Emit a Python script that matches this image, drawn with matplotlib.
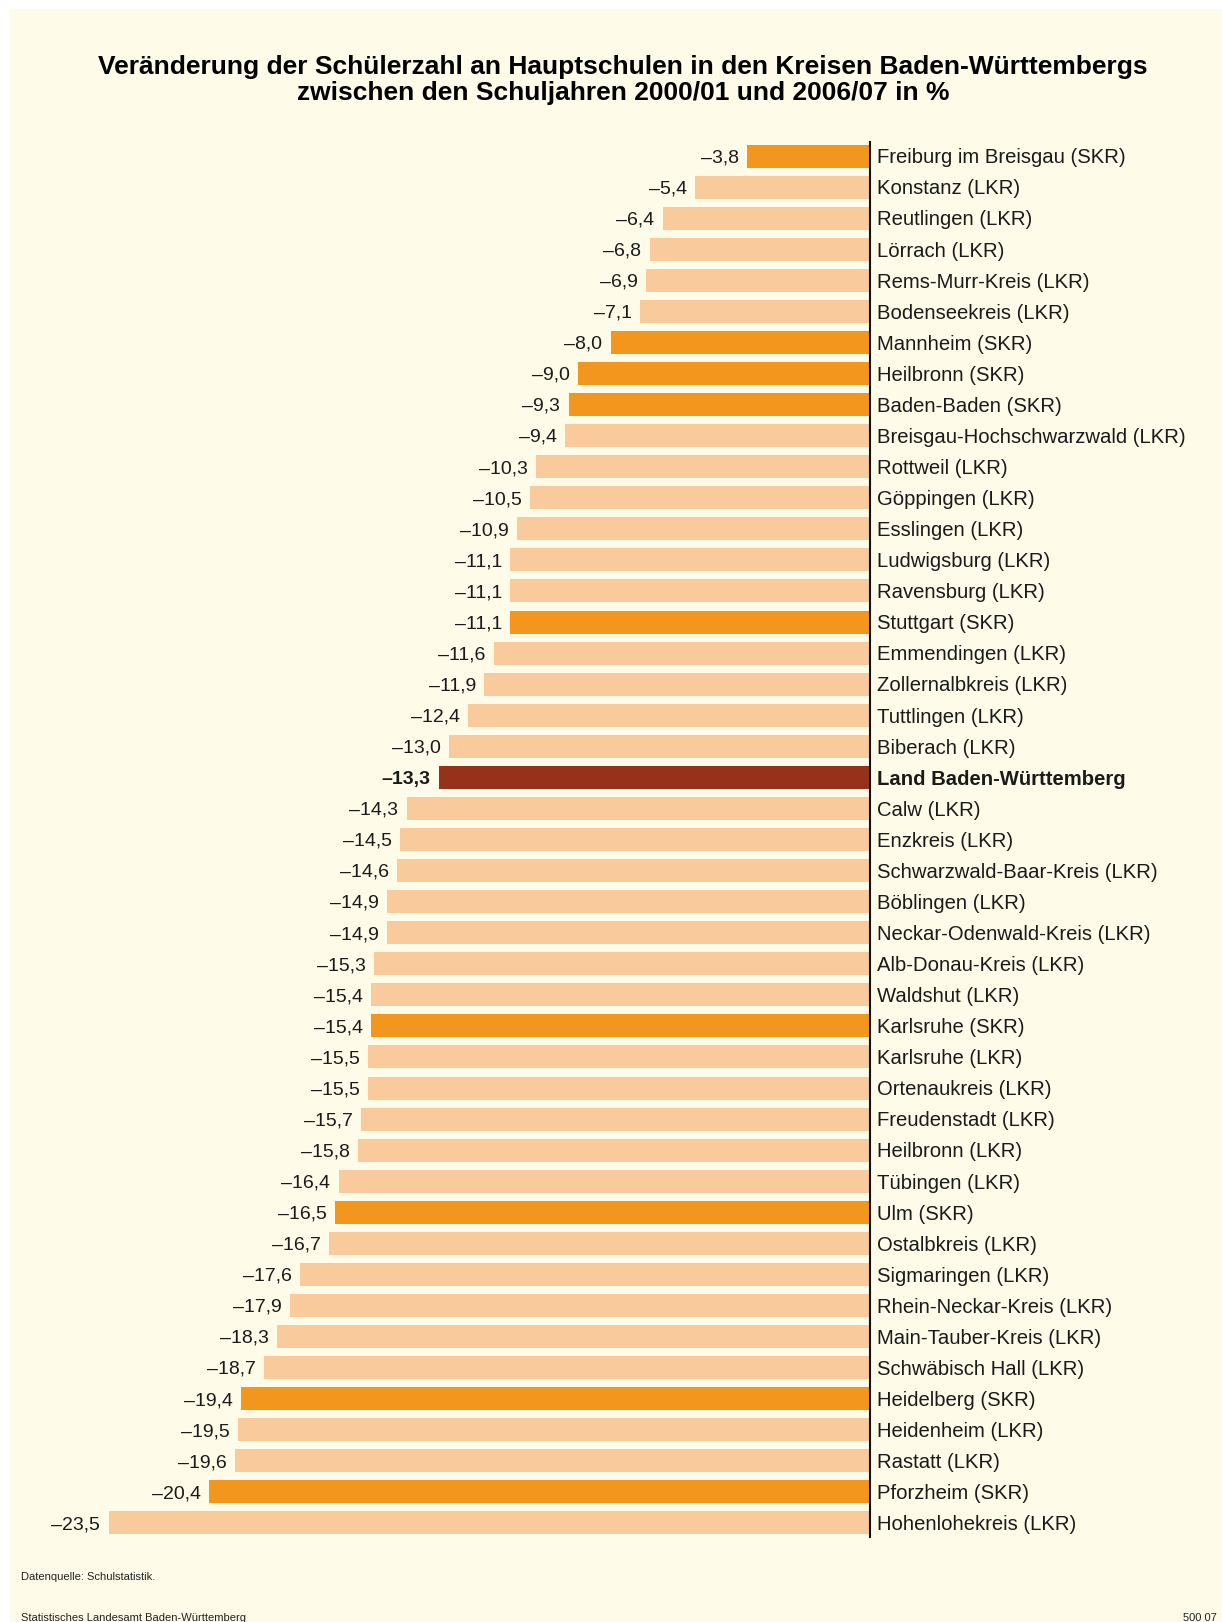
import matplotlib
matplotlib.use("Agg")
import matplotlib.pyplot as plt
from matplotlib.patches import Rectangle

plt.rcParams['font.family'] = ['Liberation Sans', 'DejaVu Sans']

names = ["Freiburg im Breisgau (SKR)", "Konstanz (LKR)", "Reutlingen (LKR)", "Lörrach (LKR)",
         "Rems-Murr-Kreis (LKR)", "Bodenseekreis (LKR)", "Mannheim (SKR)", "Heilbronn (SKR)",
         "Baden-Baden (SKR)", "Breisgau-Hochschwarzwald (LKR)", "Rottweil (LKR)", "Göppingen (LKR)",
         "Esslingen (LKR)", "Ludwigsburg (LKR)", "Ravensburg (LKR)", "Stuttgart (SKR)",
         "Emmendingen (LKR)", "Zollernalbkreis (LKR)", "Tuttlingen (LKR)", "Biberach (LKR)",
         "Land Baden-Württemberg", "Calw (LKR)", "Enzkreis (LKR)", "Schwarzwald-Baar-Kreis (LKR)",
         "Böblingen (LKR)", "Neckar-Odenwald-Kreis (LKR)", "Alb-Donau-Kreis (LKR)", "Waldshut (LKR)",
         "Karlsruhe (SKR)", "Karlsruhe (LKR)", "Ortenaukreis (LKR)", "Freudenstadt (LKR)",
         "Heilbronn (LKR)", "Tübingen (LKR)", "Ulm (SKR)", "Ostalbkreis (LKR)", "Sigmaringen (LKR)",
         "Rhein-Neckar-Kreis (LKR)", "Main-Tauber-Kreis (LKR)", "Schwäbisch Hall (LKR)",
         "Heidelberg (SKR)", "Heidenheim (LKR)", "Rastatt (LKR)", "Pforzheim (SKR)",
         "Hohenlohekreis (LKR)"]
values = [-3.8, -5.4, -6.4, -6.8, -6.9, -7.1, -8.0, -9.0, -9.3, -9.4, -10.3, -10.5, -10.9,
          -11.1, -11.1, -11.1, -11.6, -11.9, -12.4, -13.0, -13.3, -14.3, -14.5, -14.6, -14.9,
          -14.9, -15.3, -15.4, -15.4, -15.5, -15.5, -15.7, -15.8, -16.4, -16.5, -16.7, -17.6,
          -17.9, -18.3, -18.7, -19.4, -19.5, -19.6, -20.4, -23.5]

c_skr = "#f2961e"
c_lkr = "#f8ca9c"
c_land = "#96321a"
bg = "#fefbe9"

W, H = 1222, 1622
fig = plt.figure(figsize=(W / 100, H / 100), dpi=100, facecolor="white")
fig.patches.append(Rectangle((10 / W, 0), 1, 1 - 9 / H, transform=fig.transFigure,
                             facecolor=bg, edgecolor="none", zorder=-5))

ax = fig.add_axes([100 / W, 83.5 / H, 770 / W, 1398 / H])
ax.set_facecolor("none")

colors = []
for n in names:
    if n.startswith("Land"):
        colors.append(c_land)
    elif "(SKR)" in n:
        colors.append(c_skr)
    else:
        colors.append(c_lkr)

ypos = list(range(len(names)))
ax.barh(ypos, values, height=0.74, color=colors, zorder=2)
ax.set_xlim(-770 / 32.4, 0)
ax.set_ylim(len(names) - 0.5, -0.5)
ax.axis("off")
ax.plot([0, 0], [-0.45, len(names) - 0.55], color="#111111", lw=1.5, zorder=3, clip_on=False)

for y, v, n in zip(ypos, values, names):
    bold = n.startswith("Land")
    lab = ("%.1f" % abs(v)).replace(".", ",")
    ax.annotate("\u2013" + lab, (v, y), xytext=(-6, -1.3), textcoords="offset points",
                ha="right", va="center", fontsize=14, fontweight="bold" if bold else "normal",
                color="#1a1a1a", annotation_clip=False)
    ax.annotate(n, (0, y), xytext=(5, -1.3), textcoords="offset points",
                ha="left", va="center", fontsize=14.6, fontweight="bold" if bold else "normal",
                color="#1a1a1a", annotation_clip=False)

fig.text(623 / W, 1 - 67 / H, "Veränderung der Schülerzahl an Hauptschulen in den Kreisen Baden-Württembergs",
         ha="center", va="center", fontsize=19, fontweight="bold")
fig.text(623 / W, 1 - 93 / H, "zwischen den Schuljahren 2000/01 und 2006/07 in %",
         ha="center", va="center", fontsize=19, fontweight="bold")

fig.text(21 / W, 1 - 1577 / H, "Datenquelle: Schulstatistik.", ha="left", va="center",
         fontsize=8, color="#222222")
fig.text(21 / W, 1 - 1618 / H, "Statistisches Landesamt Baden-Württemberg", ha="left",
         va="center", fontsize=8, color="#222222")
fig.text(1183 / W, 1 - 1618 / H, "500 07", ha="left", va="center", fontsize=8,
         color="#222222")

fig.savefig("out.png", dpi=100, facecolor="white")
